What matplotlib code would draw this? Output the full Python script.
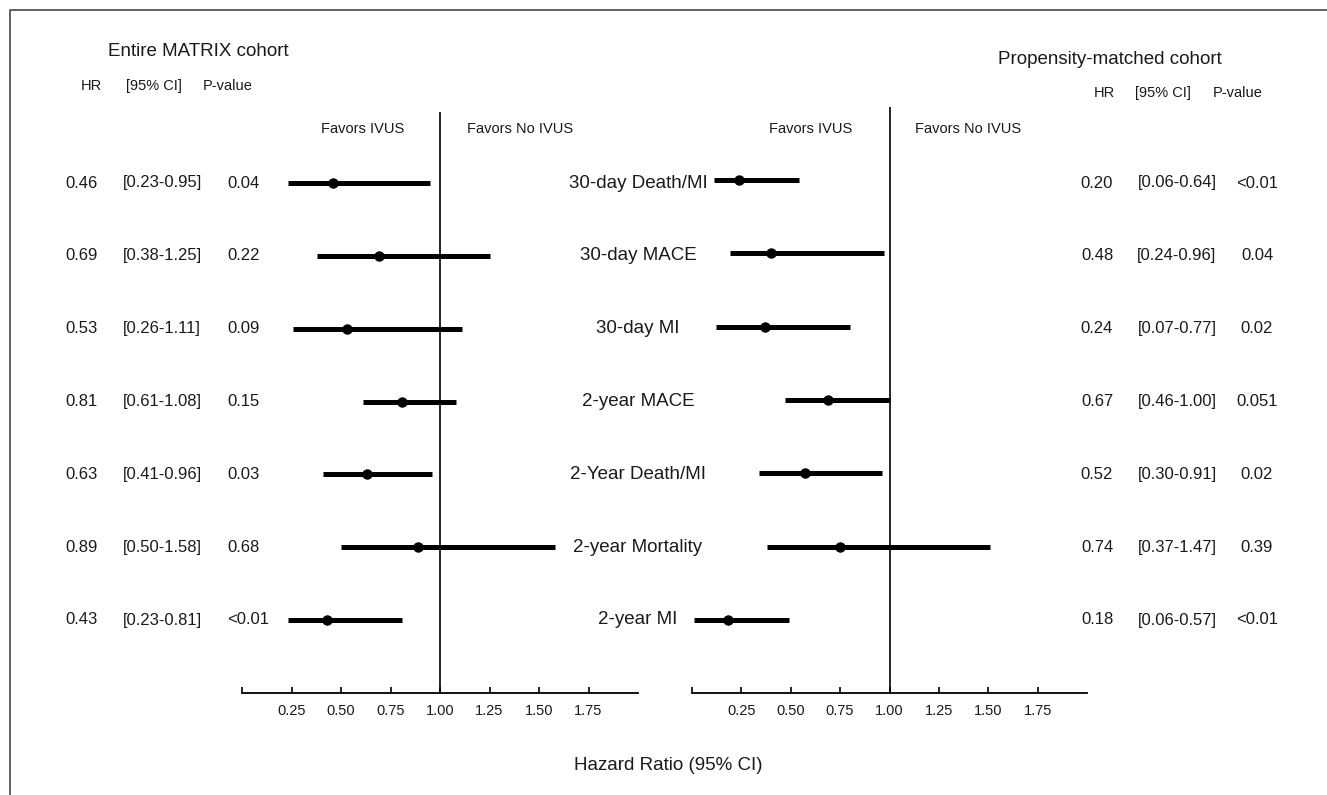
import numpy as np
import matplotlib
matplotlib.use("Agg")
import matplotlib.pyplot as plt

plt.rcParams["font.family"] = ["Liberation Sans", "DejaVu Sans"]

# =====================================
# DATA
# =====================================

outcomes = ["30-day Death/MI", "30-day MACE", "30-day MI", "2-year MACE",
            "2-Year Death/MI", "2-year Mortality", "2-year MI"]

# Entire MATRIX cohort
entire_hr = [0.46, 0.69, 0.53, 0.81, 0.63, 0.89, 0.43]
entire_lo = [0.23, 0.38, 0.26, 0.61, 0.41, 0.50, 0.23]
entire_hi = [0.95, 1.25, 1.11, 1.08, 0.96, 1.58, 0.81]
entire_p = ["0.04", "0.22", "0.09", "0.15", "0.03", "0.68", "<0.01"]

# Propensity-matched cohort (printed values)
matched_hr = [0.20, 0.48, 0.24, 0.67, 0.52, 0.74, 0.18]
matched_lo = [0.06, 0.24, 0.07, 0.46, 0.30, 0.37, 0.06]
matched_hi = [0.64, 0.96, 0.77, 1.00, 0.91, 1.47, 0.57]
matched_p = ["<0.01", "0.04", "0.02", "0.051", "0.02", "0.39", "<0.01"]

# Propensity-matched cohort (as drawn in the plot)
matched_hr_drawn = [0.24, 0.40, 0.37, 0.69, 0.57, 0.75, 0.18]
matched_lo_drawn = [0.11, 0.19, 0.12, 0.47, 0.34, 0.38, 0.01]
matched_hi_drawn = [0.54, 0.97, 0.80, 1.00, 0.96, 1.51, 0.49]

tick_values = [0, 0.25, 0.50, 0.75, 1.00, 1.25, 1.50, 1.75]
tick_labels = ["", "0.25", "0.50", "0.75", "1.00", "1.25", "1.50", "1.75"]

# =====================================
# FIGURE
# =====================================

W, H = 1327, 795
fig = plt.figure(figsize=(W / 100, H / 100), dpi=100)

bg = fig.add_axes([0, 0, 1, 1])
bg.set_xlim(0, W)
bg.set_ylim(H, 0)
bg.axis("off")

txt = "#1a1a1a"

# frame
bg.plot([10, 10, W], [H, 10, 10], color="#555555", lw=1.3)


def panel(x0, top, x1, bottom, row_first, row_last, hr, lo, hi):
    step = (row_last - row_first) / (len(hr) - 1)
    ax = fig.add_axes([x0 / W, 1 - bottom / H, (x1 - x0) / W, (bottom - top) / H])
    ax.patch.set_alpha(0)
    rows = np.arange(len(hr))
    ax.set_xlim(0, 2.0)
    ax.set_ylim(len(hr) - 1 + (bottom - row_last) / step, -(row_first - top) / step)
    ax.hlines(rows, lo, hi, color="black", lw=3.6)
    ax.plot(hr, rows, "o", color="black", ms=6.5)
    ax.axvline(1.0, color="black", lw=1.2)
    for s in ["top", "left", "right"]:
        ax.spines[s].set_visible(False)
    ax.spines["bottom"].set_linewidth(1.3)
    ax.set_yticks([])
    ax.set_xticks(tick_values)
    ax.set_xticklabels(tick_labels)
    ax.tick_params(axis="x", direction="in", length=4, width=1.2,
                   pad=8, labelsize=10.5, labelcolor=txt)
    return ax


panel(242, 112, 638, 693, 183, 620, entire_hr, entire_lo, entire_hi)
panel(692, 107, 1087, 693, 180, 620, matched_hr_drawn, matched_lo_drawn, matched_hi_drawn)

# =====================================
# TEXT
# =====================================

bg.text(108, 51, "Entire MATRIX cohort", fontsize=13.5, color=txt, va="center")
bg.text(998, 60, "Propensity-matched cohort", fontsize=13.5, color=txt, va="center")

bg.text(91, 86, "HR", fontsize=10.5, color=txt, ha="center", va="center")
bg.text(154, 86, "[95% CI]", fontsize=10.5, color=txt, ha="center", va="center")
bg.text(203, 86, "P-value", fontsize=10.5, color=txt, va="center")

bg.text(1104, 93, "HR", fontsize=10.5, color=txt, ha="center", va="center")
bg.text(1163, 93, "[95% CI]", fontsize=10.5, color=txt, ha="center", va="center")
bg.text(1213, 93, "P-value", fontsize=10.5, color=txt, va="center")

for cx, lab in [(363, "Favors IVUS"), (520, "Favors No IVUS"),
                (811, "Favors IVUS"), (968, "Favors No IVUS")]:
    bg.text(cx, 129, lab, fontsize=10.5, color=txt, ha="center", va="center")

row_y = np.linspace(183, 620, len(outcomes))
for i, name in enumerate(outcomes):
    y = row_y[i]
    bg.text(638, y, name, fontsize=13.5, color=txt, ha="center", va="center")
    bg.text(82, y, f"{entire_hr[i]:.2f}", fontsize=12, color=txt, ha="center", va="center")
    bg.text(162, y, f"[{entire_lo[i]:.2f}-{entire_hi[i]:.2f}]", fontsize=12,
            color=txt, ha="center", va="center")
    bg.text(227, y, entire_p[i], fontsize=12, color=txt, va="center")
    bg.text(1097, y, f"{matched_hr[i]:.2f}", fontsize=12, color=txt, ha="center", va="center")
    bg.text(1177, y, f"[{matched_lo[i]:.2f}-{matched_hi[i]:.2f}]", fontsize=12,
            color=txt, ha="center", va="center")
    bg.text(1257, y, matched_p[i], fontsize=12, color=txt, ha="center", va="center")

bg.text(668, 765, "Hazard Ratio (95% CI)", fontsize=13.5, color=txt,
        ha="center", va="center")

plt.savefig("out.png", dpi=100)
